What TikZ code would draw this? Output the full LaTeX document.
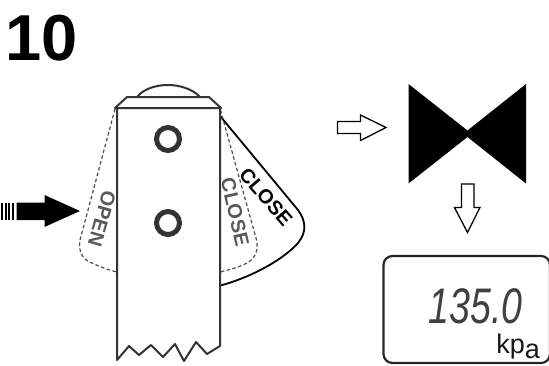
\documentclass[tikz,border=0pt]{standalone}
\usepackage{fontspec}
\setmainfont{Liberation Sans}
\begin{document}
\begin{tikzpicture}[
  x=1pt, y=-1pt,
  wall/.style={draw=black!80, line width=2pt, line join=round},
  swing/.style={draw=black!70, line width=1.2pt, dash pattern=on 3.5pt off 2.5pt},
  hole/.style={draw=black!80, line width=5pt, fill=white, circle, minimum size=23pt, inner sep=0pt},
  hollow/.style={draw=black, line width=1.3pt, fill=white, line join=miter},
  labelgrey/.style={text=black!65, inner sep=0pt},
  labelblack/.style={text=black, inner sep=0pt}
]
\useasboundingbox (0,0) rectangle (549,365);

\node[inner sep=0pt, anchor=base west, font=\fontsize{65}{65}\selectfont\bfseries] (title) at (5,60) {10};

% lever swing outlines
\draw[black, line width=1.8pt] (220.5,116.5) -- (298,210) .. controls (306,221) and (307,232) .. (298,243) .. controls (280,263) and (245,279) .. (220.5,285.5);
\draw[swing] (220.5,110) -- (256.5,240) .. controls (259,252) and (254,260) .. (245,264) .. controls (237,268) and (228,270) .. (220,272);
\draw[swing] (115,109) -- (80,240) .. controls (78,252) and (83,260) .. (92,263) .. controls (100,267) and (109,270) .. (117,272);

% lever body
\draw[wall] (137,97) .. controls (150,81) and (185,81) .. (200,97);
\draw[wall, fill=white] (115,108) -- (127,97) -- (209,97) -- (221,108) -- cycle;
\draw[wall, fill=white] (117,108) -- (117,360) -- (129,346) -- (139,355) -- (151,345) -- (163,357) -- (175,344) -- (184,361) -- (196,342) -- (207,354) -- (220,346) -- (220,108) -- cycle;
\node[hole] (upper) at (168,139) {};
\node[hole] (lower) at (168,223) {};

\node[labelgrey, rotate=-106, font=\fontsize{20}{20}\selectfont\bfseries] (open) at (102,219) {OPEN};
\node[labelgrey, rotate=-77, font=\fontsize{20}{20}\selectfont\bfseries] (closegrey) at (235,212) {CLOSE};
\node[labelblack, rotate=-49, font=\fontsize{20}{20}\selectfont\bfseries] (closeblack) at (266,197) {CLOSE};

% push arrow
\foreach \xpos/\wid in {2/2.2, 5.5/2, 9/2, 13/2.4}
  \fill[black] (\xpos-\wid/2,202.5) rectangle (\xpos+\wid/2,220);
\fill[black] (16.5,202.5) -- (44.5,202.5) -- (44.5,195) -- (80,211) -- (44.5,227) -- (44.5,220) -- (16.5,220) -- cycle;

% valve symbol
\fill[black] (408.5,84) -- (467.5,130.5) -- (526,84) -- (526,183.5) -- (467.5,137) -- (408.5,183.5) -- cycle;

% hollow arrows
\draw[hollow] (337.5,121.5) -- (360.5,121.5) -- (360.5,115) -- (386,127.5) -- (360.5,140.5) -- (360.5,133.5) -- (337.5,133.5) -- cycle;
\draw[hollow] (461.5,184) -- (474,184) -- (474,207.5) -- (480,207.5) -- (467.5,232.5) -- (454.5,207.5) -- (461.5,207.5) -- cycle;

% pressure display
\draw[black!85, line width=2.2pt, rounded corners=9pt] (383.5,256) rectangle (550,363);
\node[inner sep=0pt, anchor=base east, font=\fontsize{50}{50}\selectfont\itshape, text=black!75] (reading) at (523,323) {\scalebox{.75}[1]{135.0}};
\node[inner sep=0pt, anchor=base east, font=\fontsize{27}{27}\selectfont, text=black!90] (unit) at (540,353) {kp\raisebox{-5pt}{a}};
\end{tikzpicture}
\end{document}
